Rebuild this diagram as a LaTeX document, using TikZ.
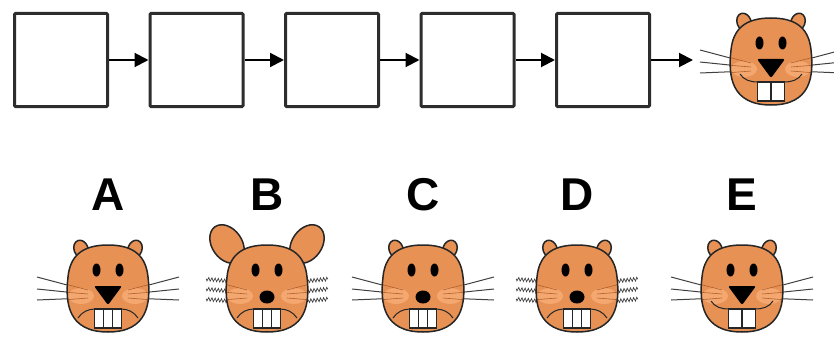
\documentclass[tikz,border=0pt]{standalone}
\usepackage{fontspec}
\setmainfont{Liberation Sans}
\usetikzlibrary{positioning,arrows.meta,decorations.pathmorphing}
\definecolor{fur}{RGB}{231,145,85}
\definecolor{cheek}{RGB}{244,168,112}
\definecolor{furline}{RGB}{175,95,45}
\definecolor{boxline}{RGB}{45,45,45}
\newcommand{\gopherheadpath}{(0,44) .. controls (27,44) and (38,32) .. (40,12) .. controls (43,-14) and (40,-43) .. (0,-43) .. controls (-40,-43) and (-43,-14) .. (-40,12) .. controls (-38,32) and (-27,44) .. (0,44) -- cycle}
\tikzset{
  cell/.style={draw=boxline, fill=white, line width=3pt, minimum size=93pt, inner sep=0pt, rounded corners=1pt},
  link/.style={draw=black, line width=2pt, -{Triangle[length=14pt,width=14pt]}},
  letter/.style={font=\fontsize{46}{50}\selectfont\bfseries, inner sep=0pt},
  gopher outline/.style={draw=black!85, line width=1.5pt},
  gopher whisker/.style={draw=black!75, line width=1pt},
  gopher wavy/.style={draw=black!75, line width=0.7pt, decorate, decoration={zigzag, amplitude=1.8pt, segment length=3.2pt}},
  gopher/.pic={
    \tikzset{/gopher/.cd, #1}
    % ears sit behind the head
    \ifnum\gopherears=1
      \draw[gopher outline, fill=fur] (-40,45) ellipse [x radius=15, y radius=21, rotate=35];
      \draw[gopher outline, fill=fur] (40,45) ellipse [x radius=15, y radius=21, rotate=-35];
    \else
      \draw[gopher outline, fill=fur] (-27,40) ellipse [x radius=7, y radius=9, rotate=20];
      \draw[gopher outline, fill=fur] (27,40) ellipse [x radius=7, y radius=9, rotate=-20];
    \fi
    \ifnum\gopherwhiskers=1
      \foreach \s in {-1,1}
        \foreach \h in {8,-2,-12}
          \draw[gopher wavy] (\s*40,\h) -- (\s*61,\h+2);
    \else
      \foreach \s in {-1,1} {
        \draw[gopher whisker] (\s*22,-1) -- (\s*71,12);
        \draw[gopher whisker] (\s*22,-5) -- (\s*71,0);
        \draw[gopher whisker] (\s*22,-9) -- (\s*71,-11);
      }
    \fi
    \fill[fur] \gopherheadpath;
    \begin{scope}
      \clip \gopherheadpath;
      \fill[cheek] (-27,-7) ellipse [x radius=13, y radius=8];
      \fill[cheek] (27,-7) ellipse [x radius=13, y radius=8];
      \foreach \s in {-1,1} {
        \draw[furline, line width=0.6pt] (\s*20,-1) -- (\s*45,5.5);
        \draw[furline, line width=0.6pt] (\s*20,-5) -- (\s*45,-3);
        \draw[furline, line width=0.6pt] (\s*20,-9) -- (\s*45,-11);
      }
    \end{scope}
    \draw[gopher outline] \gopherheadpath;
    % eyes
    \fill (-11.5,19) ellipse [x radius=4, y radius=6.5];
    \fill (11.5,19) ellipse [x radius=4, y radius=6.5];
    % mouth
    \ifnum\gophersmile=1
      \draw[gopher outline, line width=1pt] (-13,-20) .. controls (-21,-20) and (-27,-18) .. (-31,-12);
      \draw[gopher outline, line width=1pt] (13,-20) .. controls (21,-20) and (27,-18) .. (31,-12);
    \else
      \draw[gopher outline, line width=1pt] (-13,-20) .. controls (-20,-20) and (-26,-23) .. (-30,-29);
      \draw[gopher outline, line width=1pt] (13,-20) .. controls (20,-20) and (26,-23) .. (30,-29);
    \fi
    % teeth
    \ifnum\gopherteeth=2
      \draw[gopher outline, line width=1.2pt, fill=white] (-13.5,-20) rectangle (13.5,-39);
      \draw[gopher outline, line width=1.2pt] (0,-20) -- (0,-39);
    \else
      \draw[gopher outline, line width=1.2pt, fill=white] (-13.5,-20) rectangle (13.5,-39);
      \draw[gopher outline, line width=1.2pt] (-4.5,-20) -- (-4.5,-39) (4.5,-20) -- (4.5,-39);
    \fi
    % nose
    \ifnum\gophernose=1
      \fill (0,-8) ellipse [x radius=7.5, y radius=6.5];
    \else
      \fill[rounded corners=2pt] (-14,3) -- (14,3) -- (0,-16) -- cycle;
    \fi
  },
  /gopher/.search also={/tikz},
  /gopher/.cd,
  ears/.store in=\gopherears,
  nose/.store in=\gophernose,
  whiskers/.store in=\gopherwhiskers,
  teeth/.store in=\gopherteeth,
  smile/.store in=\gophersmile,
  ears=0,
  nose=0,
  whiskers=0,
  teeth=2,
  smile=1,
}
\begin{document}
\begin{tikzpicture}[x=1pt,y=1pt]
  \useasboundingbox (0,0) rectangle (834,338);
  % the chain of empty boxes
  \foreach \i in {1,...,5}
    \node[cell] (c\i) at ({61+135.5*(\i-1)},278) {};
  \foreach \i/\j in {1/2,2/3,3/4,4/5}
    \draw[link] (c\i.east) -- (c\j.west);
  \coordinate (goal) at (693,278);
  \draw[link] (c5.east) -- (goal);
  \pic at (771,276) {gopher};
  % the choices
  \foreach \x/\name in {108/A,267/B,423/C,577/D,742/E}
    \node[letter] (l\name) at (\x,143) {\name};
  \pic at (108,49) {gopher={nose=0, smile=0, teeth=3}};
  \pic at (267,49) {gopher={ears=1, nose=1, whiskers=1, smile=0, teeth=3}};
  \pic at (423,49) {gopher={nose=1, smile=0, teeth=3}};
  \pic at (577,49) {gopher={nose=1, whiskers=1, smile=0, teeth=3}};
  \pic at (742,49) {gopher};
\end{tikzpicture}
\end{document}
